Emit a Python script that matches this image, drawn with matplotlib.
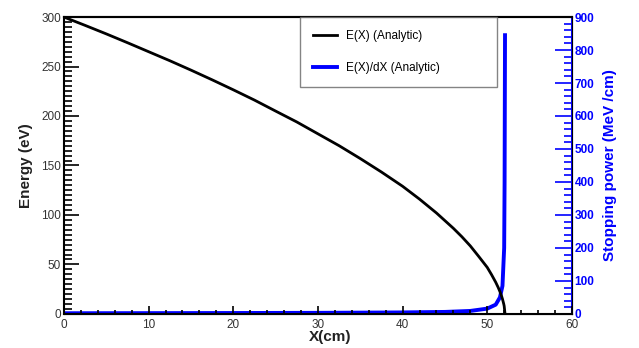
import matplotlib.pyplot as plt
from matplotlib.ticker import MultipleLocator

plt.rcParams['font.family'] = ['Liberation Sans', 'DejaVu Sans']

# Energy vs depth
x_energy = [0, 2.5, 5, 7.5, 10, 12.5, 15, 17.5, 20, 22.5, 25, 27.5, 30, 32.5, 35, 37.5, 40,
            42, 44, 46, 47, 48, 49, 50, 50.5, 51, 51.3, 51.5, 51.7, 51.8, 51.95, 52.0, 52.1]
energy = [300, 291.6, 283, 274.1, 265, 255.9, 246.4, 236.6, 226.5, 216.1, 205, 194, 182, 170,
          157, 143.4, 129, 116, 102, 86.5, 78, 68.7, 58, 47, 39.8, 32, 26.6, 22.5, 17.8, 15,
          10, 8, 0]

# Stopping power vs depth
x_stop = [0, 10, 20, 30, 40, 45, 48, 50, 51, 51.5, 51.8, 52.0, 52.05, 52.1]
stopping = [2, 2.3, 2.7, 3.2, 4.5, 6, 9, 16, 28, 50, 85, 200, 400, 845]

fig = plt.figure(figsize=(6.39, 3.48), dpi=100)
ax = fig.add_axes([0.100, 0.098, 0.795, 0.853])
ax2 = ax.twinx()

l1, = ax.plot(x_energy, energy, color='black', lw=2, zorder=3)
l2, = ax2.plot(x_stop, stopping, color='#0000ff', lw=2.8, zorder=2)

ax.set_xlim(0, 60)
ax.set_ylim(0, 300)
ax2.set_ylim(0, 900)

# ROOT style ticks
ax.xaxis.set_major_locator(MultipleLocator(10))
ax.xaxis.set_minor_locator(MultipleLocator(2))
ax.yaxis.set_major_locator(MultipleLocator(50))
ax.yaxis.set_minor_locator(MultipleLocator(5))
ax2.yaxis.set_major_locator(MultipleLocator(100))
ax2.yaxis.set_minor_locator(MultipleLocator(20))

ax.tick_params(axis='both', which='both', direction='in', top=False, right=False,
               labelsize=8.5, labelcolor='#333333', width=1.2)
ax.tick_params(axis='y', which='major', length=11)
ax.tick_params(axis='y', which='minor', length=5.5)
ax.tick_params(axis='x', which='major', length=6, pad=4)
ax.tick_params(axis='x', which='minor', length=3)
ax.tick_params(axis='y', pad=2)
ax2.tick_params(axis='y', which='both', direction='in', colors='#0000ff',
                labelsize=8.5, width=1.2, pad=2)
ax2.tick_params(axis='y', which='major', length=12)
ax2.tick_params(axis='y', which='minor', length=6)
for lab in ax2.get_yticklabels():
    lab.set_fontweight('bold')

for sp in ['left', 'bottom', 'top']:
    ax.spines[sp].set_linewidth(1.5)
ax2.spines['right'].set_color('#0000ff')
ax2.spines['right'].set_linewidth(1.5)
ax2.spines['left'].set_visible(False)
ax2.spines['top'].set_linewidth(1.5)

ax.set_ylabel('Energy (eV)', fontsize=11, fontweight='bold', color='#222222', labelpad=6)
ax.set_xlabel('X(cm)', fontsize=11, fontweight='bold', color='#222222', labelpad=0)
ax.xaxis.set_label_coords(0.525, -0.055)
ax2.set_ylabel('Stopping power (MeV /cm)', fontsize=11, fontweight='bold',
               color='#0000ff', labelpad=6)

leg = ax.legend([l1, l2], ['E(X) (Analytic)', 'E(X)/dX (Analytic)'],
                loc='upper left', bbox_to_anchor=(0.465, 1.0, 0.387, 0.0),
                mode='expand', fontsize=8.5, frameon=True, fancybox=False,
                edgecolor='#666666', borderpad=1.1, labelspacing=1.7,
                handlelength=2.0, borderaxespad=0)
leg.get_frame().set_linewidth(1.0)
leg.set_zorder(10)
ax.set_zorder(ax2.get_zorder() + 1)
ax.patch.set_visible(False)

fig.savefig('out.png', dpi=100)
